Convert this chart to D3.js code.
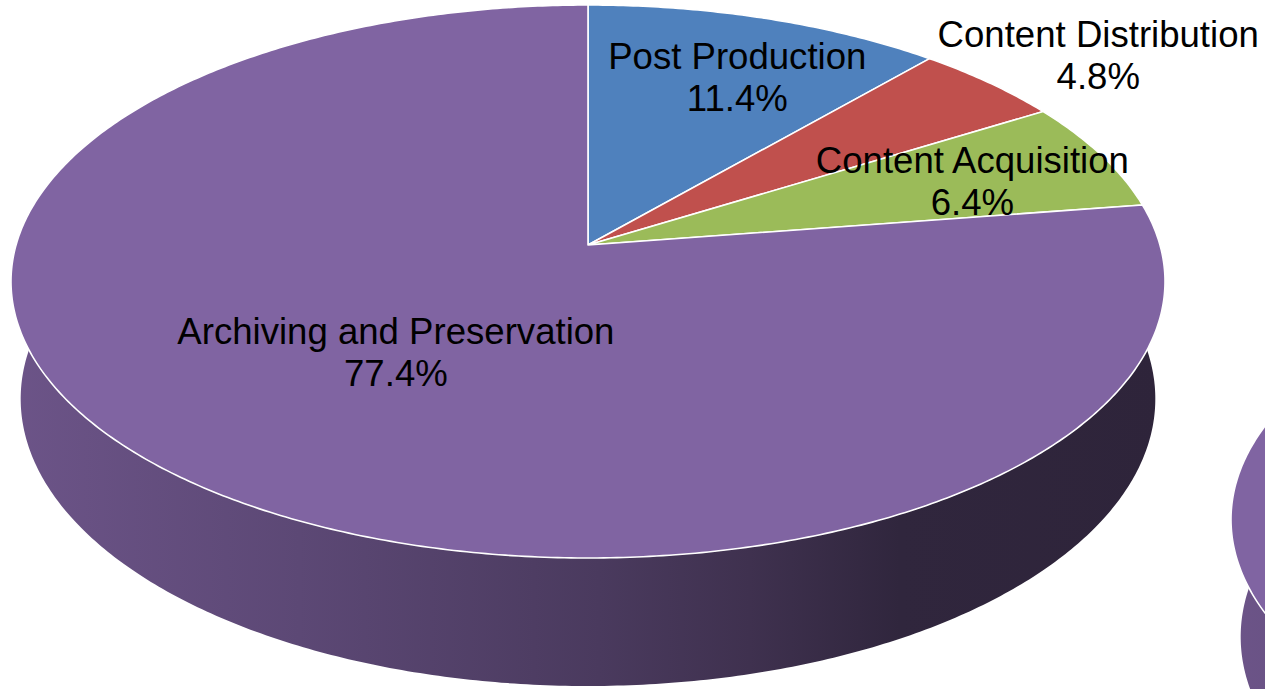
<!DOCTYPE html>
<html><head><meta charset="utf-8">
<script src="https://cdn.jsdelivr.net/npm/d3@7"></script>
<style>html,body{margin:0;padding:0;background:#fff;overflow:hidden}</style>
</head><body>
<svg id="chart" width="1265" height="689"></svg>
<script>
// ---- data ----
const categories = ["Post Production", "Content Distribution", "Content Acquisition", "Archiving and Preservation"];
const values = [11.4, 4.8, 6.4, 77.4];
const percentLabels = ["11.4%", "4.8%", "6.4%", "77.4%"];
const colors = ["#4F81BD", "#C0504D", "#9BBB59", "#8064A2"];

// ---- layout / style ----
const W = 1265, H = 689;
const geom = {cx: 588, cy: 245, top: 5, bottom: 558, halfW: 577, frontBase: 686};
const labelRadius = [0.82, 1.30, 0.74, 0.49];
const labelDy = [0, -5, -18, -20];
const lineGap = 42;
const fontSize = 36.6;
const shadeStops = [[0, 0.84], [0.25, 0.72], [0.51, 0.58], [0.64, 0.49], [0.77, 0.375], [1, 0.36]];
const secondOffset = [1220, 238];

// perspective parameters derived from the ellipse geometry
const ratio = (geom.bottom - geom.cy) / (geom.cy - geom.top);
const k = (ratio - 1) / (ratio + 1);
const B = (geom.cy - geom.top) * (1 + k);
const A = geom.halfW * Math.sqrt(1 - k * k);
const sa = B / A, ca = Math.sqrt(1 - sa * sa), D = ca / k, S = A * D;
const T = geom.frontBase - geom.cy;
const depth = (T * (D - ca) - S * sa) / (S * ca - T * sa);

function proj(a, rad, d, ox, oy) {
  const X = rad * Math.sin(a), Z = -rad * Math.cos(a);
  const zc = D + d * sa - ca * Z;
  return [ox + S * X / zc, oy + S * (d * ca + sa * Z) / zc];
}

const svg = d3.select("#chart");
const defs = svg.append("defs");
const pie = d3.pie().sort(null).value(v => v);
const arcs = pie(values);
const line = d3.line();

function arcPoints(a0, a1, rad, d, ox, oy) {
  const n = Math.max(2, Math.ceil((a1 - a0) / 0.01));
  return d3.range(n + 1).map(i => proj(a0 + (a1 - a0) * i / n, rad, d, ox, oy));
}

function drawPie(g, ox, oy, id, withLabels) {
  arcs.forEach((p, i) => {
    const base = d3.rgb(colors[i]);
    const grad = defs.append("linearGradient")
      .attr("id", `side-${id}-${i}`)
      .attr("gradientUnits", "userSpaceOnUse")
      .attr("x1", ox - geom.halfW).attr("x2", ox + geom.halfW)
      .attr("y1", 0).attr("y2", 0);
    shadeStops.forEach(([o, f]) => {
      grad.append("stop").attr("offset", o)
        .attr("stop-color", d3.rgb(base.r * f, base.g * f, base.b * f).formatHex());
    });
  });
  const vis0 = Math.PI / 2 - 0.35, vis1 = 3 * Math.PI / 2 + 0.35;
  arcs.forEach((p, i) => {
    const a0 = Math.max(p.startAngle, vis0), a1 = Math.min(p.endAngle, vis1);
    if (a1 <= a0) return;
    const topPts = arcPoints(a0, a1, 1, 0, ox, oy);
    const botPts = arcPoints(a0, a1, 1, depth, ox, oy).reverse();
    g.append("path")
      .attr("d", line(topPts.concat(botPts)) + "Z")
      .attr("fill", `url(#side-${id}-${i})`);
  });
  arcs.forEach((p, i) => {
    const pts = [proj(0, 0, 0, ox, oy)].concat(arcPoints(p.startAngle, p.endAngle, 1, 0, ox, oy));
    g.append("path")
      .attr("d", line(pts) + "Z")
      .attr("fill", colors[i])
      .attr("stroke", "#ffffff")
      .attr("stroke-width", 1.6)
      .attr("stroke-linejoin", "round");
  });
  if (!withLabels) return;
  arcs.forEach((p, i) => {
    const mid = (p.startAngle + p.endAngle) / 2;
    const [x, y] = proj(mid, labelRadius[i], 0, ox, oy);
    const t = g.append("text")
      .attr("x", x).attr("y", y + 13 + labelDy[i])
      .attr("text-anchor", "middle")
      .attr("font-family", "'Liberation Sans', Arial, Helvetica, sans-serif")
      .attr("font-size", fontSize)
      .attr("fill", "#000");
    t.append("tspan").attr("x", x).text(categories[i]);
    t.append("tspan").attr("x", x).attr("dy", lineGap).text(percentLabels[i]);
  });
}

drawPie(svg.append("g"), geom.cx + secondOffset[0], geom.cy + secondOffset[1], "b", false);
drawPie(svg.append("g"), geom.cx, geom.cy, "a", true);
</script>
</body></html>
